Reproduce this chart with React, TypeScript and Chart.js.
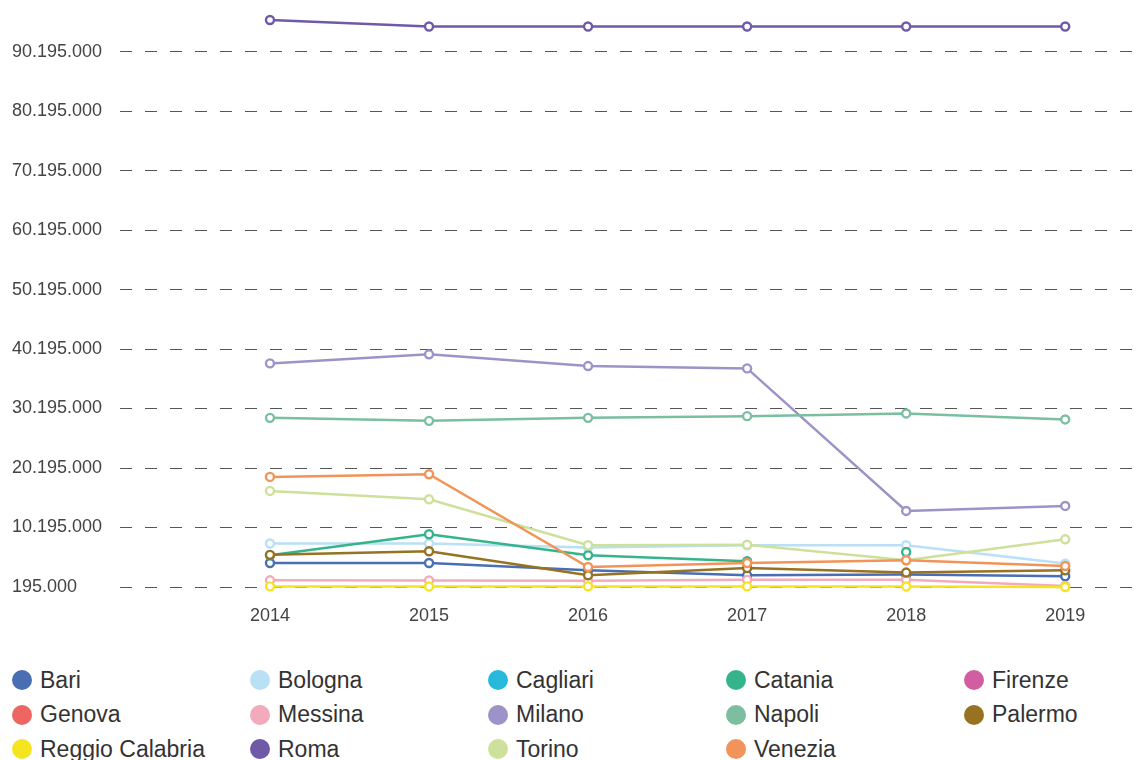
import React, { useEffect, useRef } from "react";
import { Chart, registerables } from "chart.js";

Chart.register(...registerables);

// ---- data ----
const years = [2014, 2015, 2016, 2017, 2018, 2019];

const yTicks = [
  195000, 10195000, 20195000, 30195000, 40195000, 50195000, 60195000, 70195000, 80195000, 90195000,
];

const cities = [
  "Bari",
  "Bologna",
  "Cagliari",
  "Catania",
  "Firenze",
  "Genova",
  "Messina",
  "Milano",
  "Napoli",
  "Palermo",
  "Reggio Calabria",
  "Roma",
  "Torino",
  "Venezia",
];

const colors = [
  "#4a6eb4",
  "#b9e0f5",
  "#27b9dc",
  "#35b48c",
  "#d15ea0",
  "#ee6661",
  "#f3abbb",
  "#9d93c8",
  "#7bbea0",
  "#977220",
  "#f5e420",
  "#6f5aa8",
  "#cde09c",
  "#f29459",
];

const bari = [4230000, 4230000, 3000000, 2160000, 2280000, 2000000];
const bologna = [7500000, 7500000, 6820000, 7210000, 7210000, 4130000];
const cagliari = [null, null, null, null, null, null];
const catania = [5530000, 9060000, 5530000, 4520000, 6080000, null];
const firenze = [null, null, null, null, null, null];
const genova = [null, null, null, null, null, null];
const messina = [1320000, 1300000, 1230000, 1400000, 1400000, 380000];
const milano = [37780000, 39300000, 37330000, 36940000, 12980000, 13820000];
const napoli = [28630000, 28120000, 28630000, 28910000, 29370000, 28360000];
const palermo = [5600000, 6200000, 2160000, 3390000, 2620000, 3000000];
const reggioCalabria = [300000, 290000, 300000, 300000, 290000, 195000];
const roma = [95500000, 94400000, 94400000, 94400000, 94400000, 94400000];
const torino = [16350000, 14950000, 7210000, 7300000, 4700000, 8220000];
const venezia = [18700000, 19150000, 3560000, 4230000, 4690000, 3730000];

const seriesValues: (number | null)[][] = [
  bari,
  bologna,
  cagliari,
  catania,
  firenze,
  genova,
  messina,
  milano,
  napoli,
  palermo,
  reggioCalabria,
  roma,
  torino,
  venezia,
];

// segments (by starting index) that the reference leaves undrawn
const hiddenSegments: Record<string, number[]> = { Catania: [3] };

const FONT = "'Liberation Sans', Arial, Helvetica, sans-serif";

function formatIt(v: number): string {
  return String(Math.round(v)).replace(/\B(?=(\d{3})+(?!\d))/g, ".");
}

export default function App() {
  const canvasRef = useRef<HTMLCanvasElement | null>(null);

  useEffect(() => {
    const canvas = canvasRef.current;
    if (!canvas) return;

    const allValues = seriesValues.flat().filter((v) => v !== null) as number[];
    const yMin = Math.min(...allValues);
    const yMax = Math.max(...allValues);

    const datasets = cities.map((name, i) => {
      const hidden = hiddenSegments[name] || [];
      return {
        label: name,
        data: years.map((yr, j) => ({ x: yr, y: seriesValues[i][j] })),
        borderColor: colors[i],
        backgroundColor: colors[i],
        borderWidth: 2.5,
        pointRadius: 4,
        pointBorderWidth: 2.4,
        pointBackgroundColor: "#ffffff",
        pointBorderColor: colors[i],
        tension: 0,
        clip: false as const,
        order: cities.length - i,
        segment: {
          borderColor: (ctx: any) =>
            hidden.includes(ctx.p0DataIndex) ? "rgba(0,0,0,0)" : undefined,
        },
      };
    });

    const chart = new Chart(canvas, {
      type: "line",
      data: { datasets: datasets as any },
      options: {
        animation: false,
        responsive: false,
        devicePixelRatio: 1,
        layout: { padding: { left: 12, top: 20, right: 0, bottom: 13 } },
        plugins: {
          legend: { display: false },
          tooltip: { enabled: false },
        },
        scales: {
          x: {
            type: "linear",
            min: 2013.057,
            max: 2019.43,
            afterBuildTicks: (scale: any) => {
              scale.ticks = years.map((v) => ({ value: v }));
            },
            afterFit: (scale: any) => {
              scale.height = 40;
              scale.paddingLeft = 0;
              scale.paddingRight = 0;
            },
            grid: { display: false, drawTicks: false },
            border: { display: false },
            ticks: {
              padding: 18,
              color: "#444444",
              font: { family: FONT, size: 18 },
              callback: (v: any) => String(v),
              maxRotation: 0,
              autoSkip: false,
            },
          },
          y: {
            type: "linear",
            min: yMin,
            max: yMax,
            afterBuildTicks: (scale: any) => {
              scale.ticks = yTicks.map((v) => ({ value: v }));
            },
            afterFit: (scale: any) => {
              scale.width = 108;
              scale.paddingTop = 0;
              scale.paddingBottom = 0;
            },
            grid: { color: "#555555", lineWidth: 1, drawTicks: false },
            border: { display: false, dash: [12, 13] },
            ticks: {
              crossAlign: "far",
              padding: 10,
              color: "#444444",
              font: { family: FONT, size: 18 },
              callback: (v: any) => formatIt(Number(v)),
              autoSkip: false,
            },
          },
        },
      } as any,
    });

    return () => chart.destroy();
  }, []);

  return (
    <div
      style={{
        position: "absolute",
        left: 0,
        top: 0,
        width: 1140,
        height: 760,
        overflow: "hidden",
        background: "#ffffff",
      }}
    >
      <canvas ref={canvasRef} width={1140} height={640} style={{ display: "block" }} />
      <div
        style={{
          position: "absolute",
          left: 12,
          top: 663,
          display: "grid",
          gridTemplateColumns: "repeat(5, 238px)",
          gridAutoRows: "34.5px",
          fontFamily: FONT,
          fontSize: 23,
          color: "#333333",
        }}
      >
        {cities.map((name, i) => (
          <div
            key={name}
            style={{ display: "flex", alignItems: "center", whiteSpace: "nowrap" }}
          >
            <span
              style={{
                display: "inline-block",
                width: 20,
                height: 20,
                borderRadius: "50%",
                background: colors[i],
                marginRight: 8,
                flex: "0 0 auto",
              }}
            />
            <span>{name}</span>
          </div>
        ))}
      </div>
    </div>
  );
}
